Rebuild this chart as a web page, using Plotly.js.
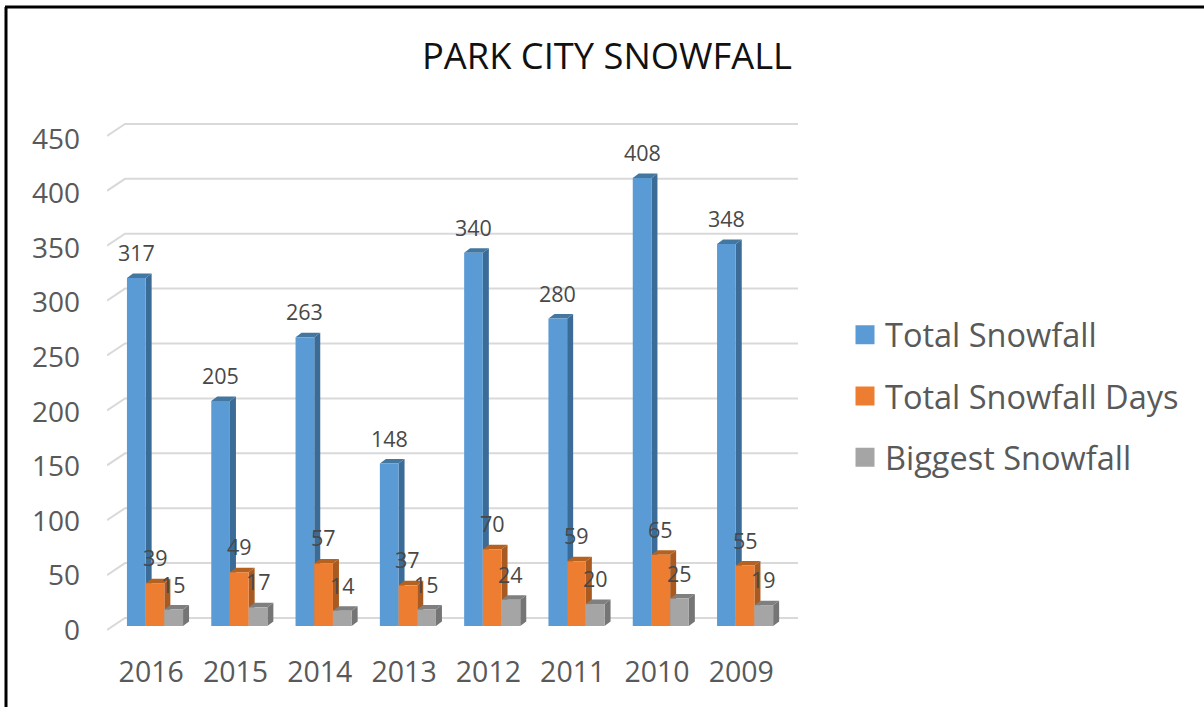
<!DOCTYPE html>
<html><head><meta charset="utf-8">
<script src="https://cdn.plot.ly/plotly-3.0.1.min.js"></script>
<style>html,body{margin:0;padding:0;background:#fff;overflow:hidden}#chart{width:1204px;height:707px}</style>
</head><body><div id="chart"></div>
<script>
const years = ["2016","2015","2014","2013","2012","2011","2010","2009"];
const totalSnowfall = [317,205,263,148,340,280,408,348];
const totalSnowfallDays = [39,49,57,37,70,59,65,55];
const biggestSnowfall = [15,17,14,15,24,20,25,19];
const yTicks = [0,50,100,150,200,250,300,350,400,450];
const seriesNames = ["Total Snowfall","Total Snowfall Days","Biggest Snowfall"];
const frontColors = ["#5B9BD5","#ED7D31","#A5A5A5"];
const sideColors = ["#3B6C97","#A85A20","#757575"];
const topColors = ["#44779F","#B5611F","#7F7F7F"];

const FONT = '"Open Sans", sans-serif';
const W = 1204, H = 707;
const L = 107, R = 810, T = 100, B = 650;
const slot = 84.3, firstCenter = 155, zeroPx = 626, pxPerUnit = 1.098;
const xR = [(L-firstCenter)/slot, (R-firstCenter)/slot];
const yR = [(zeroPx-B)/pxPerUnit, (zeroPx-T)/pxPerUnit];
const lblZero = 630, lblPer = 1.0911;
const y2R = [(lblZero-B)/lblPer, (lblZero-T)/lblPer];
const dxU = px => px/slot, dyU = px => px/pxPerUnit;
const xOf = px => (px-firstCenter)/slot;
const barW = 18.7/slot;
const idx = years.map((_,i)=>i);
const allSeries = [totalSnowfall,totalSnowfallDays,biggestSnowfall];

const shapes = [];
yTicks.forEach(v=>{
  const path = `M${xOf(107)},${v-dyU(4)} L${xOf(125)},${v+dyU(8)} L${xOf(798)},${v+dyU(8)}`;
  shapes.push({type:'path',xref:'x',yref:'y',layer:'below',path,line:{color:'#D9D9D9',width:2}});
});
allSeries.forEach((vals,s)=>{
  vals.forEach((v,i)=>{
    const x0 = i+(s-1.5)*barW, x1 = x0+barW, dx = dxU(6), dy = dyU(4.5);
    shapes.push({type:'path',xref:'x',yref:'y',layer:'below',fillcolor:sideColors[s],line:{width:0},
      path:`M${x1},0 L${x1},${v} L${x1+dx},${v+dy} L${x1+dx},${dy} Z`});
    shapes.push({type:'path',xref:'x',yref:'y',layer:'below',fillcolor:topColors[s],line:{width:0},
      path:`M${x0},${v} L${x1},${v} L${x1+dx},${v+dy} L${x0+dx},${v+dy} Z`});
  });
});
const pX = px => (px-L)/(R-L), pY = px => (B-px)/(B-T);
shapes.push({type:'line',xref:'paper',yref:'paper',x0:pX(6),x1:pX(6),y0:pY(7),y1:pY(707),line:{color:'#000',width:3}});
shapes.push({type:'line',xref:'paper',yref:'paper',x0:pX(5),x1:pX(1204),y0:pY(7),y1:pY(7),line:{color:'#000',width:3}});

const annotations = [];
allSeries.forEach((vals,s)=>{
  vals.forEach((v,i)=>{
    annotations.push({xref:'x',yref:'y',x:i+(s-1)*barW,y:v,yshift:25.5,text:String(v),showarrow:false,
      xanchor:'center',yanchor:'middle',font:{family:FONT,size:21.5,color:'#484848'}});
  });
});

const traces = [];
allSeries.forEach((vals,s)=>{
  traces.push({type:'bar',name:seriesNames[s],x:idx,y:vals,showlegend:false,hoverinfo:'skip',
    marker:{color:frontColors[s],line:{width:0}}});
});
seriesNames.forEach((n,s)=>{
  traces.push({type:'scatter',mode:'markers',name:n,x:[null],y:[null],legendgroup:'g'+s,showlegend:true,
    marker:{symbol:'square',size:16,color:frontColors[s],line:{color:frontColors[s],width:3}}});
});
traces.push({type:'scatter',mode:'none',x:idx.slice(0,1),y:yTicks.slice(0,1),yaxis:'y2',showlegend:false,hoverinfo:'skip'});

const layout = {
  width:W,height:H,autosize:false,
  paper_bgcolor:'#fff',plot_bgcolor:'rgba(0,0,0,0)',
  margin:{l:L,r:W-R,t:T,b:H-B,pad:0},
  title:{text:'PARK CITY SNOWFALL',x:607/W,xanchor:'center',y:1-56/H,yanchor:'middle',
    font:{family:FONT,size:36.3,color:'#111'}},
  barmode:'group',bargap:1-3*barW,bargroupgap:0,
  xaxis:{type:'linear',range:xR,tickmode:'array',tickvals:idx.map(i=>i-0.045),ticktext:years,
    showgrid:false,zeroline:false,showline:false,ticks:'',ticklabelstandoff:2,
    tickfont:{family:FONT,size:28.5,color:'#595959'}},
  yaxis:{range:yR,showgrid:false,zeroline:false,showline:false,ticks:'',showticklabels:false},
  yaxis2:{overlaying:'y',side:'left',range:y2R,tickmode:'array',tickvals:yTicks,ticktext:yTicks.map(String),
    showgrid:false,zeroline:false,showline:false,ticks:'',ticklabelstandoff:26,
    tickfont:{family:FONT,size:28,color:'#595959'}},
  showlegend:true,
  legend:{x:pX(845),xanchor:'left',y:pY(307),yanchor:'top',bgcolor:'rgba(0,0,0,0)',
    font:{family:FONT,size:32.5,color:'#595959'},itemsizing:'trace',tracegroupgap:16,traceorder:'grouped',itemclick:false,itemdoubleclick:false},
  shapes,annotations
};
Plotly.newPlot('chart',traces,layout,{displayModeBar:false,staticPlot:true});
</script></body></html>
